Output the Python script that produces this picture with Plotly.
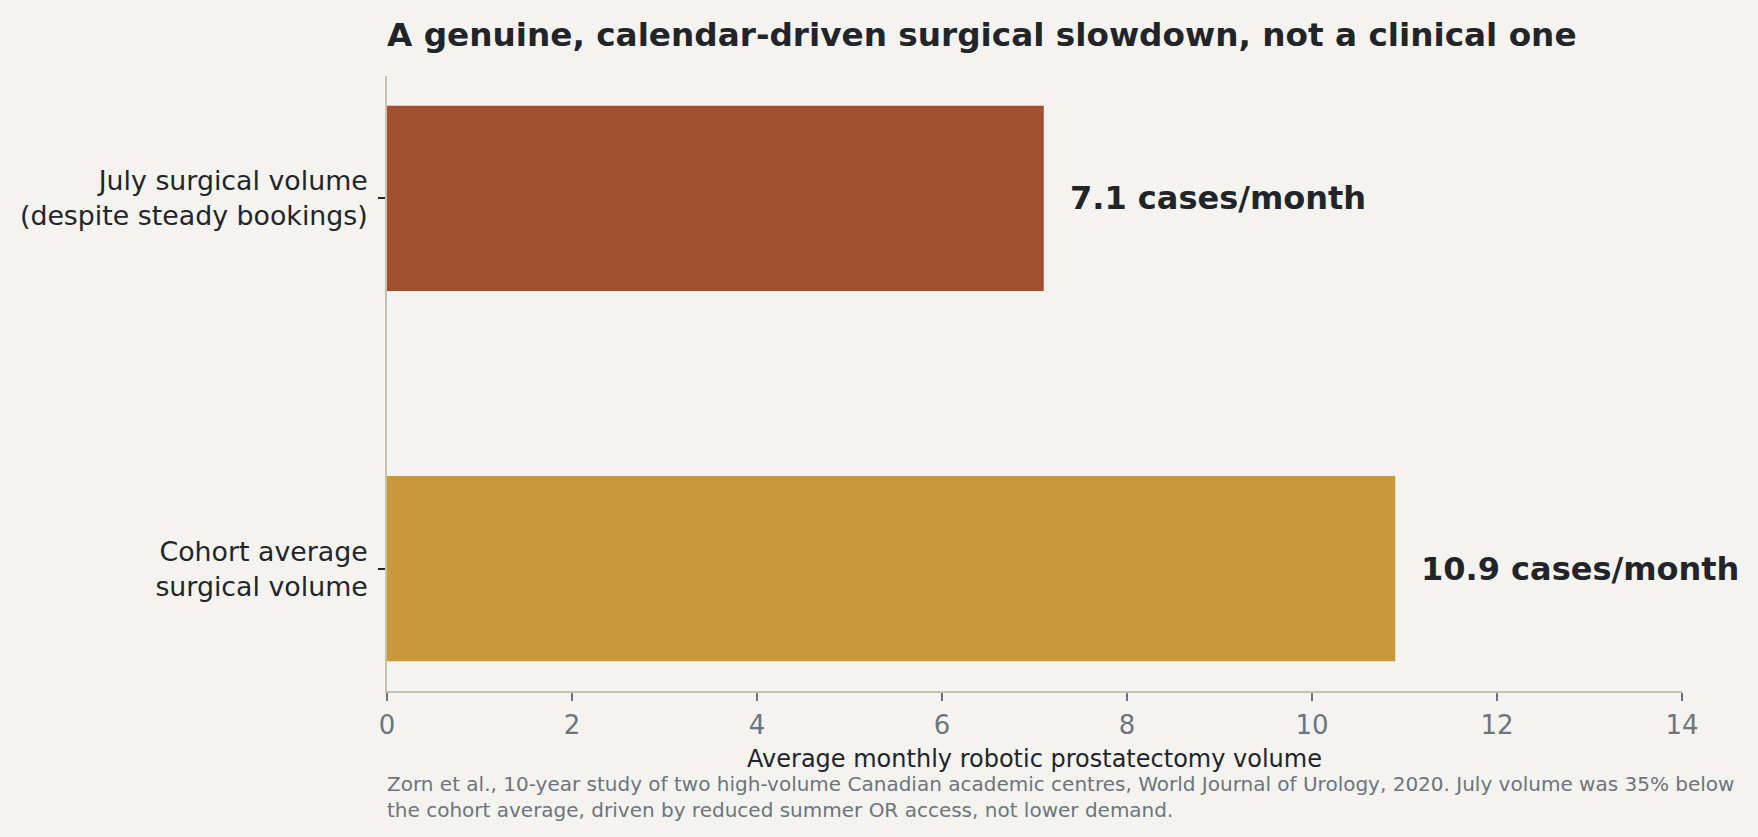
import plotly.graph_objects as go

# Data
categories = ["Cohort average<br>surgical volume", "July surgical volume<br>(despite steady bookings)"]
volumes = [10.9, 7.1]
value_labels = ["10.9 cases/month", "7.1 cases/month"]
bar_colors = ["#c9983a", "#a0502e"]
x_ticks = [0, 2, 4, 6, 8, 10, 12, 14]

title_text = "A genuine, calendar-driven surgical slowdown, not a clinical one"
x_title = "Average monthly robotic prostatectomy volume"
source_note = ("Zorn et al., 10-year study of two high-volume Canadian academic centres, "
               "World Journal of Urology, 2020. July volume was 35% below<br>"
               "the cohort average, driven by reduced summer OR access, not lower demand.")

BG = "#f4f3ef"
AXIS = "#c8c0b0"
DARK = "#212529"
GRAY = "#6c757d"
FONT = "DejaVu Sans"


def build_figure():
    fig = go.Figure()

    fig.add_trace(
        go.Bar(
            x=volumes,
            y=categories,
            orientation="h",
            width=0.5,
            marker=dict(color=bar_colors, line=dict(width=0)),
            hoverinfo="skip",
        )
    )

    # value labels to the right of each bar
    for cat, val, lab in zip(categories, volumes, value_labels):
        fig.add_annotation(
            x=val, y=cat, text=f"<b>{lab}</b>",
            xanchor="left", yanchor="middle", xshift=24,
            showarrow=False,
            font=dict(family=FONT, size=32, color=DARK),
        )

    # source note under the axis
    fig.add_annotation(
        x=0, y=-0.128, xref="paper", yref="paper",
        xanchor="left", yanchor="top", align="left", xshift=-2,
        text=source_note, showarrow=False,
        font=dict(family=FONT, size=20, color=GRAY),
    )

    fig.update_layout(
        width=1758,
        height=837,
        paper_bgcolor=BG,
        plot_bgcolor=BG,
        showlegend=False,
        margin=dict(l=387, r=76, t=76, b=146),
        title=dict(
            text=f"<b>{title_text}</b>",
            x=0, xref="paper", xanchor="left",
            y=1 - 35 / 837, yref="container", yanchor="middle",
            font=dict(family=FONT, size=32.7, color=DARK),
        ),
        font=dict(family=FONT),
    )

    fig.update_xaxes(
        range=[0, 14],
        tickvals=x_ticks,
        showgrid=False,
        zeroline=False,
        showline=True, linecolor=AXIS, linewidth=1.8,
        ticks="outside", ticklen=8, tickwidth=1.5, tickcolor=GRAY,
        ticklabelstandoff=2,
        tickfont=dict(family=FONT, size=26, color=GRAY),
        title=dict(text=x_title, standoff=11,
                   font=dict(family=FONT, size=24, color=DARK)),
    )

    fig.update_yaxes(
        categoryorder="array", categoryarray=categories,
        range=[-0.33, 1.33],
        showgrid=False,
        zeroline=False,
        showline=True, linecolor=AXIS, linewidth=1.8,
        ticks="outside", ticklen=7, tickwidth=1.5, tickcolor=DARK,
        ticklabelstandoff=5,
        tickfont=dict(family=FONT, size=26.8, color=DARK),
    )

    return fig


def main():
    fig = build_figure()
    # drop the page margin so the figure fills the window
    fig.write_html(
        "out.html",
        config={"displayModeBar": False},
        post_script="document.body.style.margin='0';"
                    "document.body.style.overflow='hidden';"
                    "document.body.style.background='#f4f3ef';",
    )


if __name__ == "__main__":
    main()
